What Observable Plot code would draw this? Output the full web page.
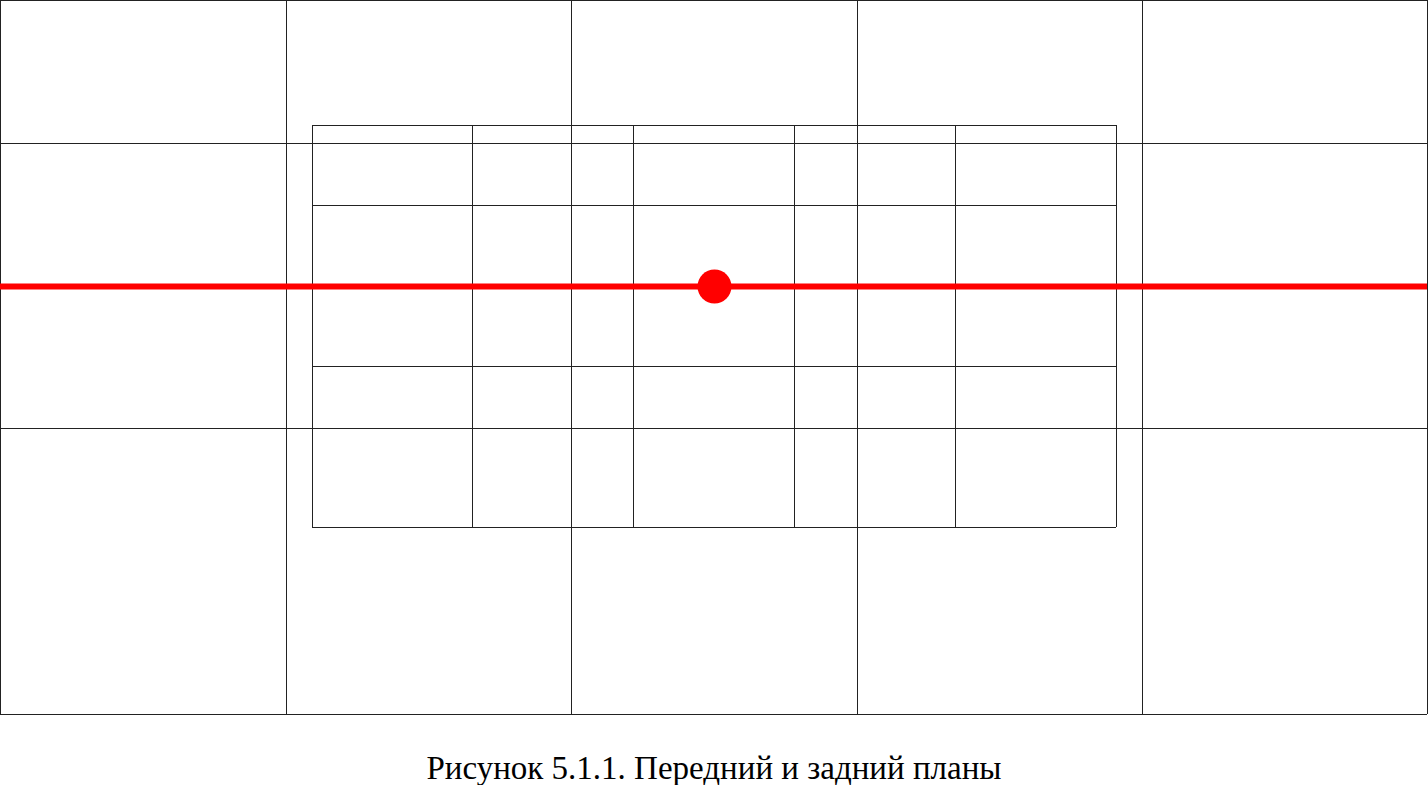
<!DOCTYPE html>
<html>
<head>
<meta charset="utf-8">
<script src="https://cdn.jsdelivr.net/npm/d3@7"></script>
<script src="https://cdn.jsdelivr.net/npm/@observablehq/plot@0.6"></script>
<style>
  body { margin: 0; background: #fff; }
  #caption {
    font-family: "Liberation Serif", "DejaVu Serif", serif;
    font-size: 33px;
    text-align: center;
    color: #000;
    margin-top: 36px;
    line-height: 1;
  }
</style>
</head>
<body>
<div id="chart"></div>
<div id="caption">Рисунок 5.1.1. Передний и задний планы</div>
<script>
// outer frame grid (picture coordinates, y grows downward)
const outerX = [0, 286, 571, 857, 1142, 1427]
const outerY = [0, 143, 428, 714]
// inner (background) grid
const innerX = [312, 472, 633, 794, 955, 1116]
const innerY = [125, 205, 366, 527]
// horizon line and the subject point on it
const horizon = [286]
const subject = [{x: 714, y: 286}]

const lineColor = "#222"

let chart = Plot.plot({
  width: 1428,
  height: 716,
  marginLeft: 0,
  marginRight: 1,
  marginTop: 0,
  marginBottom: 2,
  x: {domain: [0, 1427], axis: null},
  y: {domain: [0, 714], reverse: true, axis: null},
  marks: [
    Plot.ruleX(outerX, {x: d => d, y1: () => outerY[0], y2: () => outerY[outerY.length - 1], stroke: lineColor, strokeWidth: 1}),
    Plot.ruleY(outerY, {y: d => d, x1: () => outerX[0], x2: () => outerX[outerX.length - 1], stroke: lineColor, strokeWidth: 1}),
    Plot.ruleX(innerX, {x: d => d, y1: () => innerY[0], y2: () => innerY[innerY.length - 1], stroke: lineColor, strokeWidth: 1}),
    Plot.ruleY(innerY, {y: d => d, x1: () => innerX[0], x2: () => innerX[innerX.length - 1], stroke: lineColor, strokeWidth: 1}),
    Plot.ruleY(horizon, {y: d => d, x1: () => outerX[0], x2: () => outerX[outerX.length - 1], stroke: "#f00", strokeWidth: 6}),
    Plot.dot(subject, {x: "x", y: "y", r: 17, fill: "#f00", stroke: "none"})
  ],
  style: {background: "#fff", overflow: "visible"}
})

d3.select("#chart").append(() => chart)
</script>
</body>
</html>
